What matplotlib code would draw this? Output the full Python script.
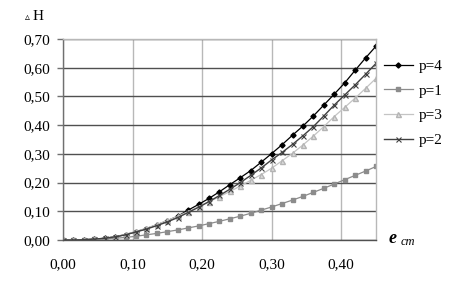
import numpy as np
import matplotlib.pyplot as plt

# x values, step 0.015 from 0 to 0.45
e_cm = [round(0.015 * i, 3) for i in range(31)]

h_p4 = [0.000, 0.000, 0.001, 0.003, 0.006, 0.011, 0.019, 0.029, 0.040, 0.053,
        0.067, 0.083, 0.104, 0.124, 0.145, 0.168, 0.193, 0.217, 0.242, 0.271,
        0.301, 0.332, 0.365, 0.397, 0.432, 0.470, 0.508, 0.547, 0.591, 0.634,
        0.675]
h_p1 = [0.000, 0.000, 0.001, 0.002, 0.004, 0.006, 0.009, 0.013, 0.018, 0.023,
        0.029, 0.035, 0.042, 0.049, 0.057, 0.065, 0.074, 0.083, 0.093, 0.104,
        0.115, 0.127, 0.139, 0.152, 0.166, 0.180, 0.195, 0.210, 0.225, 0.240,
        0.256]
h_p3 = [0.000, 0.000, 0.001, 0.002, 0.006, 0.012, 0.020, 0.030, 0.041, 0.054,
        0.068, 0.083, 0.099, 0.116, 0.133, 0.151, 0.169, 0.188, 0.208, 0.228,
        0.250, 0.276, 0.302, 0.331, 0.362, 0.395, 0.430, 0.462, 0.494, 0.528,
        0.563]
h_p2 = [0.000, 0.000, 0.001, 0.003, 0.006, 0.011, 0.018, 0.028, 0.038, 0.050,
        0.063, 0.078, 0.096, 0.114, 0.134, 0.155, 0.177, 0.200, 0.225, 0.251,
        0.279, 0.305, 0.333, 0.363, 0.395, 0.432, 0.470, 0.505, 0.540, 0.577,
        0.615]

yticks = [0.0, 0.1, 0.2, 0.3, 0.4, 0.5, 0.6, 0.7]
xticks = [0.0, 0.1, 0.2, 0.3, 0.4]

serif = ['Liberation Serif', 'DejaVu Serif']
plt.rcParams['font.family'] = serif

fig = plt.figure(figsize=(4.49, 2.87), dpi=100)
ax = fig.add_axes([0.1403, 0.1638, 0.6971, 0.7003])

ax.plot(e_cm, h_p4, color='black', lw=0.9, marker='D', ms=2.6, label='p=4')
ax.plot(e_cm, h_p1, color='#8c8c8c', lw=0.9, marker='s', ms=3, label='p=1')
ax.plot(e_cm, h_p3, color='#c4c4c4', lw=0.9, marker='^', ms=3.6,
        mfc='#dadada', mec='#b4b4b4', label='p=3')
ax.plot(e_cm, h_p2, color='#404040', lw=1.0, marker='x', ms=3.6, mew=0.8,
        label='p=2')

ax.set_xlim(0, 0.45)
ax.set_ylim(0, 0.70)
ax.set_yticks(yticks)
ax.set_xticks(xticks)
ax.set_yticklabels([f'{v:.2f}'.replace('.', ',') for v in yticks])
ax.set_xticklabels([f'{v:.2f}'.replace('.', ',') for v in xticks])
ax.tick_params(axis='y', length=4, width=1, color='#707070', pad=5, labelsize=11)
ax.tick_params(axis='x', length=0, pad=13, labelsize=11)

ax.grid(axis='y', color='#505050', lw=1)
ax.grid(axis='x', color='#b8b8b8', lw=1)
ax.set_axisbelow(True)
for side in ['top', 'right']:
    ax.spines[side].set_color('#b8b8b8')
ax.spines['left'].set_color('#707070')
ax.spines['bottom'].set_color('#505050')
for s in ax.spines.values():
    s.set_linewidth(1)

ax.legend(loc='upper left', bbox_to_anchor=(1.005, 0.93), frameon=False,
          fontsize=11, handlelength=1.9, labelspacing=0.72, handletextpad=0.4,
          borderaxespad=0)

fig.text(0.055, 0.93, '▵', fontsize=7, family=['DejaVu Sans'], va='baseline')
fig.text(0.073, 0.93, 'H', fontsize=11, va='baseline')
fig.text(0.866, 0.153, 'e', fontsize=13, style='italic', weight='bold',
         va='baseline')
fig.text(0.892, 0.145, 'cm', fontsize=9, style='italic', va='baseline')

fig.savefig('out.png', dpi=100)
